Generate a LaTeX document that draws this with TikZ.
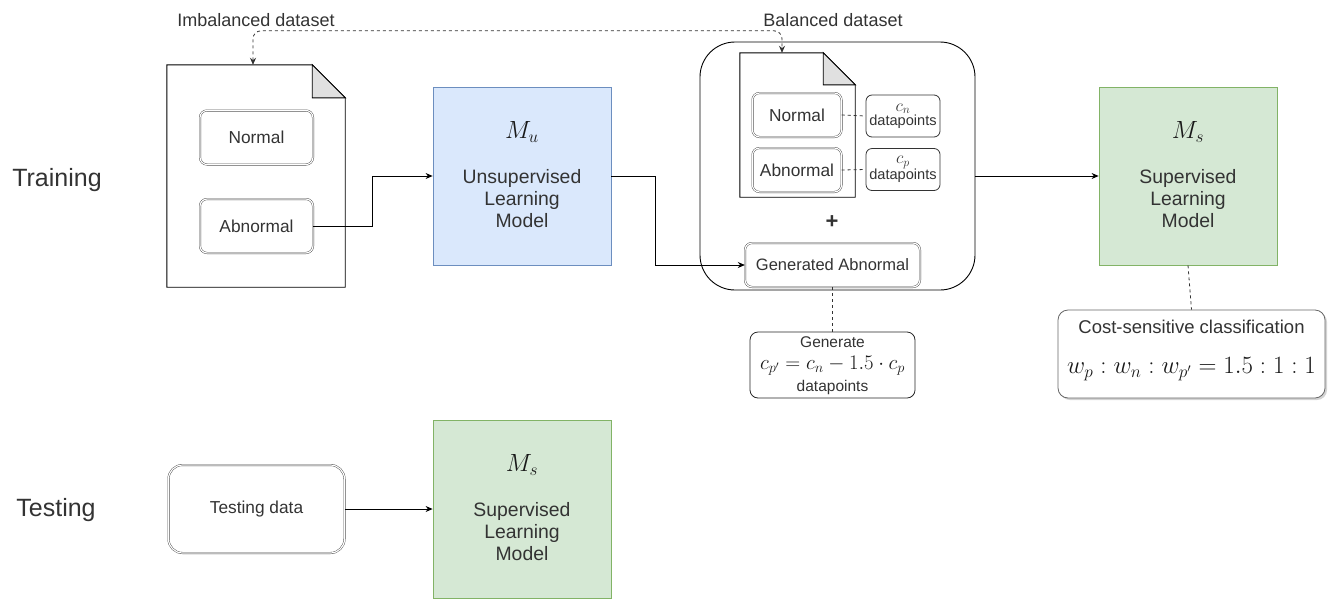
\documentclass[tikz,border=0pt]{standalone}
\usepackage{fontspec}
\setmainfont{Liberation Sans}
\usetikzlibrary{arrows.meta,shadows,calc}
\begin{document}
\begin{tikzpicture}[x=1pt,y=-1pt,
  every node/.style={text=black!80},
  txt/.style={font=\fontsize{17.3}{21}\selectfont},
  mtxt/.style={font=\fontsize{19.4}{22}\selectfont, align=center},
  small/.style={font=\fontsize{15.5}{19}\selectfont},
  lbl/.style={font=\fontsize{18}{21}\selectfont},
  mlab/.style={font=\fontsize{24}{26}\selectfont, text=black!90},
  inbox/.style={draw=black!75, double=white, double distance=1.2pt, rounded corners=7pt, inner sep=0pt},
  docline/.style={draw=black, line width=0.9pt},
  model/.style={minimum width=178, minimum height=178, inner sep=0pt, line width=0.8pt},
  unsup/.style={model, fill={rgb,255:red,218;green,232;blue,252}, draw={rgb,255:red,108;green,142;blue,191}},
  sup/.style={model, fill={rgb,255:red,213;green,232;blue,212}, draw={rgb,255:red,130;green,179;blue,102}},
  dpbox/.style={draw=black!80, line width=0.8pt, rounded corners=6pt, minimum width=74, minimum height=42, inner sep=0pt, align=center, font=\fontsize{14.6}{15}\selectfont},
  arr/.style={-{Stealth[length=7pt,width=6pt]}, line width=0.8pt, black},
  dline/.style={dashed, line width=0.8pt, black!80},
]
\useasboundingbox (0,0) rectangle (1331,598);

% row labels
\node[font=\fontsize{25}{28}\selectfont] (train) at (57,180) {Training};
\node[font=\fontsize{25}{28}\selectfont] (test) at (56,510) {Testing};

% imbalanced dataset document
\node[minimum width=178, minimum height=222, inner sep=0pt] (doc1) at (256,176) {};
\draw[docline] (doc1.north west) -- ([xshift=-33]doc1.north east) -- ([yshift=-33]doc1.north east) -- (doc1.south east) -- (doc1.south west) -- cycle;
\filldraw[fill=black!12, draw=black, line width=0.9pt] ([xshift=-33]doc1.north east) -- ([xshift=-33,yshift=-33]doc1.north east) -- ([yshift=-33]doc1.north east) -- cycle;
\node[lbl] (imblab) at (256,20) {Imbalanced dataset};
\node[inbox, txt, minimum width=113, minimum height=54] (norm1) at (256.5,137.5) {Normal};
\node[inbox, txt, minimum width=113, minimum height=54] (abn1) at (256.5,226) {Abnormal};

% unsupervised model
\node[unsup] (mu) at (522,176) {};
\node[mlab] (mulab) at ($(mu.center)+(0,-44)$) {$M_u$};
\node[mtxt] (mutxt) at ($(mu.center)+(0,23)$) {Unsupervised\\Learning\\Model};

% balanced dataset container
\node[draw=black, line width=0.9pt, rounded corners=35pt, minimum width=275, minimum height=248, inner sep=0pt] (bal) at (837.5,166) {};
\node[lbl] (ballab) at (833,20) {Balanced dataset};
\node[minimum width=115, minimum height=144, inner sep=0pt] (doc2) at (797.5,125) {};
\draw[docline] (doc2.north west) -- ([xshift=-32]doc2.north east) -- ([yshift=-32]doc2.north east) -- (doc2.south east) -- (doc2.south west) -- cycle;
\filldraw[fill=black!12, draw=black, line width=0.9pt] ([xshift=-32]doc2.north east) -- ([xshift=-32,yshift=-32]doc2.north east) -- ([yshift=-32]doc2.north east) -- cycle;
\node[inbox, txt, minimum width=89, minimum height=44] (norm2) at (797,115) {Normal};
\node[inbox, txt, minimum width=89, minimum height=44] (abn2) at (797,170) {Abnormal};
\node[dpbox] (cn) at (903,116) {\fontsize{17}{16}\selectfont$c_n$\\[-1pt]datapoints};
\node[dpbox] (cp) at (903,169.5) {\fontsize{17}{16}\selectfont$c_p$\\[-1pt]datapoints};
\node[font=\fontsize{22}{24}\selectfont\bfseries] (plus) at (832,222) {+};
\node[inbox, font=\fontsize{16.5}{20}\selectfont, minimum width=175, minimum height=44] (gen) at (832.5,265) {Generated Abnormal};

% generation note
\node[draw=black!85, line width=0.8pt, rounded corners=8pt, minimum width=165, minimum height=66, inner sep=0pt] (note) at (832.5,365) {};
\node[small, inner sep=0pt] (notea) at (832.5,342) {Generate};
\node[font=\fontsize{19.5}{22}\selectfont, text=black!90, inner sep=0pt] (noteb) at (832.5,366) {$c_{p'} = c_n - 1.5 \cdot c_p$};
\node[small, inner sep=0pt] (notec) at (832.5,387) {datapoints};

% supervised model (training)
\node[sup] (ms) at (1188,176) {};
\node[mlab] (mslab) at ($(ms.center)+(0,-44)$) {$M_s$};
\node[mtxt] (mstxt) at ($(ms.center)+(0,23)$) {Supervised\\Learning\\Model};

% cost-sensitive note
\node[draw=black!60, fill=white, line width=0.8pt, rounded corners=10pt, minimum width=267, minimum height=88, inner sep=0pt,
      drop shadow={opacity=0.35, shadow xshift=2pt, shadow yshift=-2pt}] (cost) at (1191.5,354) {};
\node[font=\fontsize{18.5}{21}\selectfont] (costa) at (1191.5,327) {Cost-sensitive classification};
\node[font=\fontsize{24}{26}\selectfont, text=black!90] (costb) at (1191.5,369) {$w_p : w_n : w_{p'} = 1.5 : 1 : 1$};

% testing row
\node[inbox, minimum width=176, minimum height=88, rounded corners=14pt, txt] (tdata) at (256.5,509) {Testing data};
\node[sup] (ms2) at (522,509) {};
\node[mlab] (ms2lab) at ($(ms2.center)+(0,-44)$) {$M_s$};
\node[mtxt] (ms2txt) at ($(ms2.center)+(0,23)$) {Supervised\\Learning\\Model};

% connectors
\draw[arr] (abn1.east) -- ++(59,0) |- (mu.west);
\draw[arr] (mu.east) -- ++(44,0) |- (gen.west);
\draw[arr] (bal.east |- ms.west) -- (ms.west);
\draw[arr] (tdata.east) -- (ms2.west);
\draw[dline] (norm2.east) -- (cn.west);
\draw[dline] (abn2.east) -- (cp.west);
\draw[dline] (gen.south) -- (note.north);
\draw[dline] (ms.south) -- (cost.north);
\coordinate (dsrc) at ([xshift=-3]doc1.north);
\coordinate (ddst) at ([xshift=-15.5]doc2.north);
\draw[dline, {Stealth[length=7pt,width=6pt]}-{Stealth[length=7pt,width=6pt]}, rounded corners=8pt]
  (dsrc) |- ($(ddst)+(0,-22)$) -- (ddst);
\end{tikzpicture}
\end{document}
